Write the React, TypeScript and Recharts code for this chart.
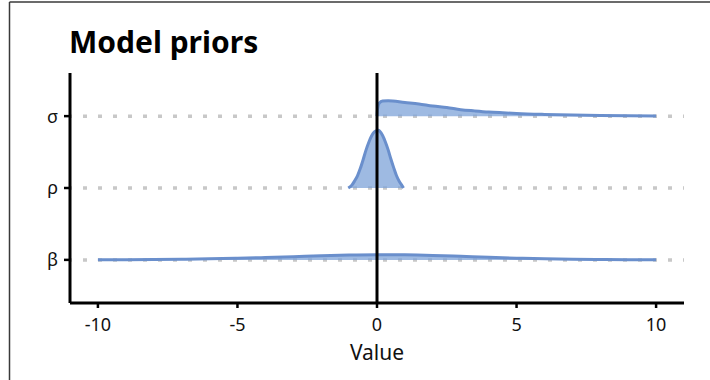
import { ComposedChart, Area, XAxis, YAxis, ReferenceLine } from 'recharts'

// priors, drawn as half-eye densities (height in row units)
const rows = ['β', 'ρ', 'σ']
const rowPos = [1, 2, 3]
const xDomain = [-11, 11]
const xTicks = [-10, -5, 0, 5, 10]

const betaX = [-10, -9, -8, -7, -6, -5, -4, -3, -2, -1, 0, 1, 2, 3, 4, 5, 6, 7, 8, 9, 10]
const betaD = [0.001, 0.002, 0.005, 0.009, 0.014, 0.022, 0.033, 0.045, 0.058, 0.068, 0.072, 0.07, 0.062, 0.049, 0.035, 0.024, 0.015, 0.009, 0.005, 0.002, 0.001]

const rhoX = [-1.03, -0.9, -0.8, -0.7, -0.6, -0.5, -0.4, -0.3, -0.2, -0.1, 0, 0.05, 0.1, 0.2, 0.3, 0.4, 0.5, 0.6, 0.7, 0.8, 0.9, 0.95]
const rhoD = [0, 0.04, 0.1, 0.17, 0.27, 0.39, 0.52, 0.63, 0.72, 0.78, 0.8, 0.805, 0.79, 0.73, 0.64, 0.53, 0.4, 0.28, 0.17, 0.09, 0.03, 0]

const sigmaX = [0, 0.02, 0.08, 0.2, 0.4, 1, 1.5, 2, 2.5, 3, 3.5, 4, 4.5, 5, 6, 7, 8, 9, 10]
const sigmaD = [0, 0.1, 0.18, 0.212, 0.215, 0.19, 0.17, 0.14, 0.12, 0.09, 0.073, 0.058, 0.047, 0.037, 0.024, 0.015, 0.009, 0.005, 0.003]

const build = (xs: number[], ds: number[], base: number) => xs.map((x, i) => ({ x, y: base + ds[i] }))

const series = [
  { base: 1, data: build(betaX, betaD, 1) },
  { base: 2, data: build(rhoX, rhoD, 2) },
  { base: 3, data: build(sigmaX, sigmaD, 3) },
]

// dotted guide across the panel at each row baseline (drawn first, under the densities)
const guides = rowPos.map(p => xDomain.map(x => ({ x, y: p })))

const font = '"Noto Sans", sans-serif'
const fill = '#7ea3d8'
const stroke = '#6a8fcc'

export default function App() {
  return (
    <div style={{ position: 'absolute', left: 0, top: 0, width: 710, height: 380, background: '#fff', fontFamily: font }}>
      <ComposedChart width={710} height={380} margin={{ top: 73, right: 26, bottom: 17, left: 0 }}>
        <XAxis
          dataKey="x"
          type="number"
          domain={xDomain}
          ticks={xTicks}
          allowDataOverflow
          height={60}
          axisLine={{ stroke: '#000', strokeWidth: 3 }}
          tickLine={{ stroke: '#000', strokeWidth: 2.5 }}
          tickSize={5}
          tickMargin={10}
          tick={{ fill: '#111', fontSize: 18, fontFamily: font }}
          label={{ value: 'Value', position: 'insideBottom', offset: 3, fill: '#111', fontSize: 21, fontFamily: font }}
        />
        <YAxis
          type="number"
          domain={[0.4, 3.6]}
          ticks={rowPos}
          interval={0}
          width={70}
          tickFormatter={(v: number) => rows[v - 1]}
          axisLine={{ stroke: '#000', strokeWidth: 3 }}
          tickLine={{ stroke: '#000', strokeWidth: 2.5 }}
          tickSize={6}
          tickMargin={6}
          tick={{ fill: '#111', fontSize: 18, fontFamily: font }}
        />
        {guides.map((g, i) => (
          <Area
            key={'g' + i}
            data={g}
            dataKey="y"
            baseValue={rowPos[i]}
            fill="none"
            stroke="#c8c8c8"
            strokeWidth={3.5}
            strokeDasharray="4 11"
            strokeDashoffset={2}
            dot={false}
            activeDot={false}
            isAnimationActive={false}
          />
        ))}
        {series.map(s => (
          <Area
            key={s.base}
            data={s.data}
            dataKey="y"
            type="monotone"
            baseValue={s.base}
            fill={fill}
            fillOpacity={0.75}
            stroke={stroke}
            strokeWidth={3}
            strokeLinejoin="round"
            dot={false}
            activeDot={false}
            isAnimationActive={false}
          />
        ))}
        <ReferenceLine x={0} stroke="#000" strokeWidth={3} />
      </ComposedChart>
      <svg width={710} height={380} style={{ position: 'absolute', left: 0, top: 0, pointerEvents: 'none' }}>
        <line x1={9.5} y1={2} x2={9.5} y2={380} stroke="#3a3a3a" strokeWidth={1.5} />
        <line x1={9.5} y1={2} x2={710} y2={2} stroke="#3a3a3a" strokeWidth={1.5} />
        <text x={69} y={53} fontSize={30} fontWeight={700} fontFamily={font} fill="#000">Model priors</text>
      </svg>
    </div>
  )
}
